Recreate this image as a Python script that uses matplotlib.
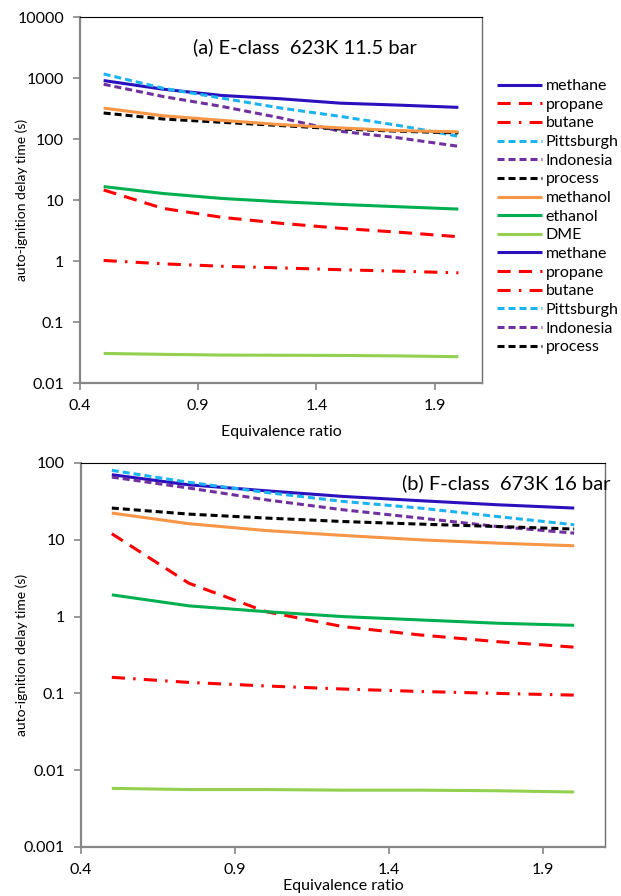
import matplotlib
matplotlib.use("Agg")
import matplotlib.pyplot as plt

plt.rcParams['font.family'] = ['Lato', 'DejaVu Sans']

phi = [0.5, 0.75, 1.0, 1.25, 1.5, 1.75, 2.0]

# (a) E-class 623 K 11.5 bar
a_methane    = [908, 656, 517, 456, 387, 359, 330]
a_propane    = [14.6, 7.3, 5.2, 4.15, 3.44, 2.96, 2.5]
a_butane     = [1.02, 0.90, 0.82, 0.77, 0.72, 0.68, 0.64]
a_pittsburgh = [1164, 680, 468, 321, 235, 166, 111]
a_indonesia  = [790, 498, 342, 221, 134, 104, 76]
a_process    = [267, 213, 188, 166, 146, 134, 126]
a_methanol   = [321, 241, 202, 172, 152, 137, 131]
a_ethanol    = [16.6, 12.8, 10.6, 9.35, 8.46, 7.75, 7.1]
a_dme        = [0.0305, 0.0295, 0.0287, 0.0285, 0.0283, 0.0278, 0.0270]

# (b) F-class 673 K 16 bar
b_methane    = [70.4, 52, 43.5, 36.7, 32.3, 28.6, 25.9]
b_propane    = [12.0, 2.72, 1.16, 0.74, 0.577, 0.472, 0.40]
b_butane     = [0.162, 0.139, 0.125, 0.114, 0.106, 0.100, 0.095]
b_pittsburgh = [80.2, 56, 41.4, 31.6, 25.9, 20.1, 15.7]
b_indonesia  = [65.6, 47.2, 33.2, 24.6, 19.2, 14.9, 12.2]
b_process    = [25.9, 21.6, 19.2, 17.3, 16.0, 14.9, 13.8]
b_methanol   = [22.3, 16.2, 13.2, 11.4, 10.0, 9.05, 8.36]
b_ethanol    = [1.92, 1.38, 1.16, 1.0, 0.905, 0.82, 0.77]
b_dme        = [0.0058, 0.0056, 0.0056, 0.0055, 0.0055, 0.0054, 0.0052]

names = ["methane", "propane", "butane", "Pittsburgh", "Indonesia", "process",
         "methanol", "ethanol", "DME"]
x_ticks = [0.4, 0.9, 1.4, 1.9]
x_ticklabels = ["0.4", "0.9", "1.4", "1.9"]
ya_ticks = [0.01, 0.1, 1, 10, 100, 1000, 10000]
ya_labels = ["0.01", "0.1", "1", "10", "100", "1000", "10000"]
yb_ticks = [0.001, 0.01, 0.1, 1, 10, 100]
yb_labels = ["0.001", "0.01", "0.1", "1", "10", "100"]

LW = 2.2
styles = {
    "methane":    dict(color="#2B10BE", ls="-"),
    "propane":    dict(color="#FF0000", ls=(0, (4.3, 2.7))),
    "butane":     dict(color="#FF0000", ls=(0, (4.3, 2.7, 0.8, 2.7))),
    "Pittsburgh": dict(color="#1CB4F0", ls=(0, (2.3, 1.3))),
    "Indonesia":  dict(color="#7030A0", ls=(0, (2.3, 1.3))),
    "process":    dict(color="#000000", ls=(0, (2.3, 1.3))),
    "methanol":   dict(color="#F79646", ls="-"),
    "ethanol":    dict(color="#00B050", ls="-"),
    "DME":        dict(color="#92D050", ls="-"),
}

fig = plt.figure(figsize=(6.21, 8.96), dpi=100)
W, H = 621, 896
def ax_rect(l, t, r, b):
    return [l / W, 1 - b / H, (r - l) / W, (b - t) / H]

axA = fig.add_axes(ax_rect(80, 17, 482, 383))
axB = fig.add_axes(ax_rect(81, 463, 605, 847))

dataA = [a_methane, a_propane, a_butane, a_pittsburgh, a_indonesia, a_process,
         a_methanol, a_ethanol, a_dme]
dataB = [b_methane, b_propane, b_butane, b_pittsburgh, b_indonesia, b_process,
         b_methanol, b_ethanol, b_dme]

handlesA, handlesB = [], []
for ax, data, hl in ((axA, dataA, handlesA), (axB, dataB, handlesB)):
    for n, d in zip(names, data):
        st = styles[n]
        h, = ax.plot(phi, d, color=st["color"], linestyle=st["ls"], lw=LW,
                     label=n, solid_capstyle="butt", dash_capstyle="butt")
        hl.append(h)
    ax.set_yscale("log")
    ax.set_xlim(0.4, 2.1)
    ax.set_xticks(x_ticks)
    ax.set_xticklabels(x_ticklabels)
    ax.minorticks_off()
    ax.tick_params(axis="both", which="major", direction="out", length=5,
                   width=1.2, color="#868686", labelsize=11.5)
    ax.tick_params(axis="x", pad=6.5)
    ax.tick_params(axis="y", pad=6.5)
    for s in ("left", "bottom"):
        ax.spines[s].set_color("#868686")
        ax.spines[s].set_linewidth(1.6)
    ax.spines["top"].set_color("#000000")
    ax.spines["top"].set_linewidth(0.8)
    ax.spines["right"].set_color("#6e6e6e")
    ax.spines["right"].set_linewidth(1.0)
    ax.set_ylabel("auto-ignition delay time (s)", fontsize=10)
    ax.set_xlabel("Equivalence ratio", fontsize=11.5)

axA.set_ylim(0.01, 10000)
axA.set_yticks(ya_ticks)
axA.set_yticklabels(ya_labels)
axA.minorticks_off()
axB.set_ylim(0.001, 100)
axB.set_yticks(yb_ticks)
axB.set_yticklabels(yb_labels)
axB.minorticks_off()

axA.yaxis.set_label_coords((22 - 80) / 402, 0.5)
axB.yaxis.set_label_coords((22 - 81) / 524, 0.5)
axA.xaxis.set_label_coords(0.5, (383 - 432) / 366)
axB.xaxis.set_label_coords(0.5, (847 - 886) / 384)
for ax in (axA, axB):
    ax.yaxis.label.set_va("center")
    ax.xaxis.label.set_va("center")

axA.text(0.56, 0.917, "(a) E-class  623K 11.5 bar", transform=axA.transAxes,
         ha="center", va="center", fontsize=14.5)
axB.text(1.01, 0.948, "(b) F-class  673K 16 bar", transform=axB.transAxes,
         ha="right", va="center", fontsize=14.5)

leg_handles = handlesA + handlesB[:6]
leg_labels = names + names[:6]
fig.legend(leg_handles, leg_labels, loc="upper left",
           bbox_to_anchor=(497 / W, 1 - 79 / H), frameon=False,
           fontsize=11.5, handlelength=2.8, handletextpad=0.25,
           labelspacing=0.28, borderaxespad=0, borderpad=0)

fig.savefig("out.png", dpi=100)
